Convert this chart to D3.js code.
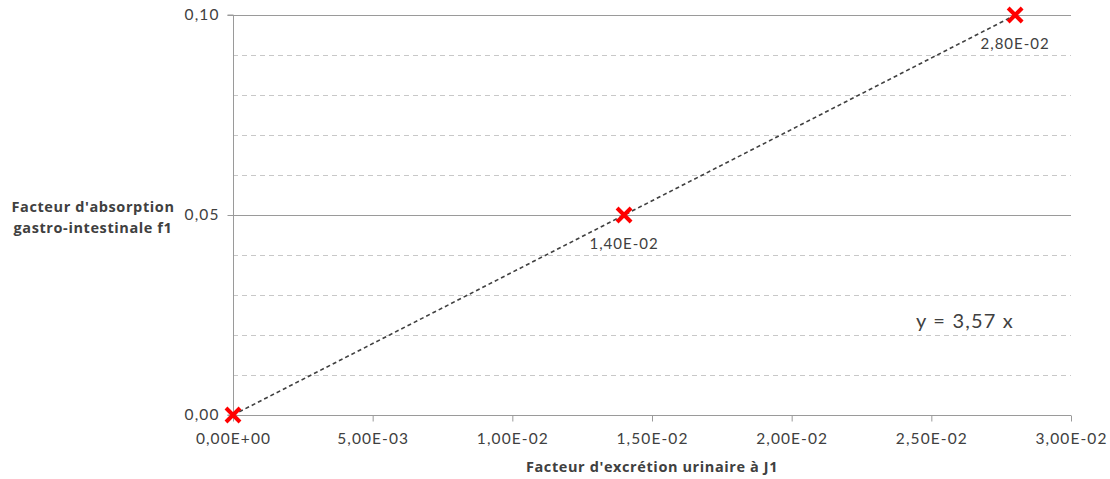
<!DOCTYPE html>
<html><head><meta charset="utf-8">
<script src="https://cdn.jsdelivr.net/npm/d3@7"></script>
<style>
html,body{margin:0;padding:0;background:#fff;}
svg{display:block;font-family:Lato,"Open Sans",sans-serif;}
</style></head>
<body>
<svg id="chart" width="1110" height="479"></svg>
<script>
const xValues = [0, 0.014, 0.028];
const yValues = [0, 0.05, 0.10];
const pointLabels = ["", "1,40E-02", "2,80E-02"];
const xTicks = [0, 0.005, 0.01, 0.015, 0.02, 0.025, 0.03];
const xTickLabels = ["0,00E+00","5,00E-03","1,00E-02","1,50E-02","2,00E-02","2,50E-02","3,00E-02"];
const yMajorTicks = [0, 0.05, 0.10];
const yTickLabels = ["0,00","0,05","0,10"];
const yMinorTicks = [0.01, 0.02, 0.03, 0.04, 0.06, 0.07, 0.08, 0.09];
const slope = 3.57;
const equationText = "y = 3,57 x";
const xTitle = "Facteur d'excrétion urinaire à J1";
const yTitleLines = ["Facteur d'absorption", "gastro-intestinale f1"];

(function(){
const svg = d3.select("#chart");
const pL = 233, pR = 1071, pT = 15, pB = 415;
const x = d3.scaleLinear().domain([0, 0.03]).range([pL, pR]);
const y = d3.scaleLinear().domain([0, 0.10]).range([pB, pT]);
const txt = "#404040", axisCol = "#9a9a9a";

// minor gridlines
svg.append("g").selectAll("line").data(yMinorTicks).join("line")
  .attr("x1", pL).attr("x2", pR)
  .attr("y1", d => Math.round(y(d)) + 0.5).attr("y2", d => Math.round(y(d)) + 0.5)
  .attr("stroke", "#c8c8c8").attr("stroke-width", 1).attr("stroke-dasharray", "5,4");

// major gridlines
svg.append("g").selectAll("line").data(yMajorTicks.filter(d => d > 0)).join("line")
  .attr("x1", pL).attr("x2", pR)
  .attr("y1", d => Math.round(y(d)) + 0.5).attr("y2", d => Math.round(y(d)) + 0.5)
  .attr("stroke", axisCol).attr("stroke-width", 1);

// y axis
const yAxis = d3.axisLeft(y).tickValues(yMajorTicks).tickSize(6).tickPadding(8)
  .tickFormat((d, i) => yTickLabels[i]);
const gy = svg.append("g").attr("transform", `translate(${pL + 0.5},0)`).call(yAxis);
gy.select(".domain").attr("stroke", axisCol).attr("d", `M-6,${pB}H0V${pT}H-6`);
gy.selectAll(".tick line").attr("stroke", axisCol);
gy.selectAll(".tick text").attr("fill", txt).style("font-size", "15.5px")
  .style("letter-spacing", "1.1px").style("font-family", "Lato, sans-serif");

// x axis
const xAxis = d3.axisBottom(x).tickValues(xTicks).tickSize(6).tickPadding(11)
  .tickFormat((d, i) => xTickLabels[i]);
const gx = svg.append("g").attr("transform", `translate(0,${pB + 0.5})`).call(xAxis);
gx.select(".domain").attr("stroke", axisCol).attr("d", `M${pL},0H${pR}`);
gx.selectAll(".tick line").attr("stroke", axisCol);
gx.selectAll(".tick text").attr("fill", txt).style("font-size", "15.5px")
  .style("letter-spacing", "1.1px").style("font-family", "Lato, sans-serif");

// trendline
const xMax = d3.max(xValues);
svg.append("line")
  .attr("x1", x(0)).attr("y1", y(0))
  .attr("x2", x(xMax)).attr("y2", y(slope * xMax))
  .attr("stroke", "#404040").attr("stroke-width", 1.6).attr("stroke-dasharray", "4,3");

// markers
const s = 7;
const pts = svg.append("g").selectAll("g").data(xValues.map((v, i) => [v, yValues[i]])).join("g")
  .attr("transform", d => `translate(${x(d[0])},${y(d[1])})`);
pts.append("path").attr("d", `M${-s},${-s}L${s},${s}M${-s},${s}L${s},${-s}`)
  .attr("stroke", "#ff0000").attr("stroke-width", 4).attr("fill", "none");

// point labels
svg.append("g").selectAll("text").data(xValues.map((v, i) => [v, yValues[i], pointLabels[i]])).join("text")
  .attr("x", d => x(d[0])).attr("y", d => y(d[1]) + 34)
  .attr("text-anchor", "middle").attr("fill", txt)
  .style("font-size", "15px").style("letter-spacing", "1px").text(d => d[2]);

// equation
svg.append("text").attr("x", 965).attr("y", 328).attr("text-anchor", "middle")
  .attr("fill", txt).style("font-size", "20px").style("letter-spacing", "1.2px").text(equationText);

// axis titles
svg.append("text").attr("x", (pL + pR) / 2).attr("y", 472).attr("text-anchor", "middle")
  .attr("fill", txt).style("font-family", "'Open Sans', sans-serif")
  .style("font-size", "14.5px").style("letter-spacing", "0.6px").style("font-weight", "bold").text(xTitle);
svg.append("g").selectAll("text").data(yTitleLines).join("text")
  .attr("x", 93).attr("y", (d, i) => 212 + i * 21).attr("text-anchor", "middle")
  .attr("fill", txt).style("font-family", "'Open Sans', sans-serif")
  .style("font-size", "14.5px").style("letter-spacing", "0.6px").style("font-weight", "bold").text(d => d);
})();
</script>
</body></html>
